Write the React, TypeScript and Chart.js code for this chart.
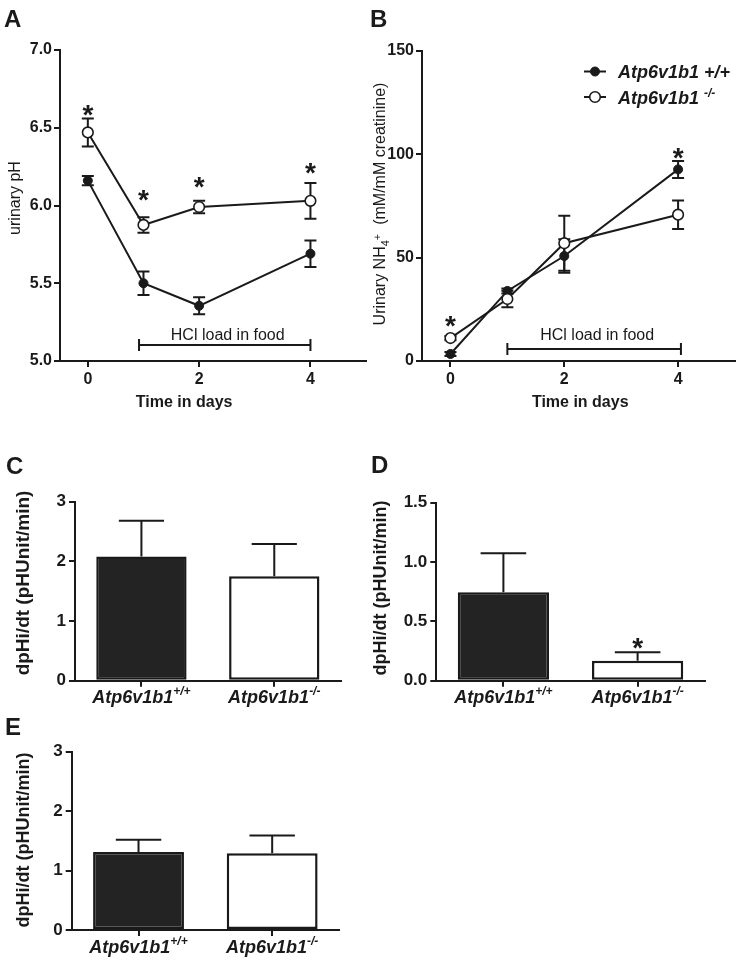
import React, { useEffect, useRef } from "react";
import { Chart, registerables } from "chart.js";

Chart.register(...registerables);

const FONT = "'Liberation Sans', Arial, Helvetica, sans-serif";
const INK = "#1a1a1a";
const DARK_FILL = "#232323";

// ---------- Panel A : urinary pH ----------
const days = [0, 1, 2, 4];
const dayTicks = [0, 2, 4];
const phWT = [6.16, 5.5, 5.355, 5.69];
const phWTErr = [0.03, 0.075, 0.055, 0.085];
const phKO = [6.47, 5.875, 5.99, 6.03];
const phKOErr = [0.09, 0.05, 0.04, 0.115];
const phStarDays = [0, 1, 2, 4];
const phStarLevels = [6.63, 6.08, 6.165, 6.255];
const phHclSpan = [0.92, 4];
const phHclLevel = 5.103;
const phHclTextLevel = 5.135;

// ---------- Panel B : urinary NH4+ ----------
const nh4WT = [3.4, 33.9, 50.8, 92.7];
const nh4WTErr = [1.0, 1.2, 8.1, 4.1];
const nh4KO = [11.1, 30.0, 57.0, 70.8];
const nh4KOErr = [1.0, 4.0, 13.3, 6.9];
const nh4StarDays = [0, 4];
const nh4StarLevels = [20.3, 101.7];
const nh4HclSpan = [1.0, 4.05];
const nh4HclLevel = 5.8;
const nh4HclTextLevel = 10.2;

// ---------- Panels C, D, E : dpHi/dt ----------
const genotypeNames = ["Atp6v1b1", "Atp6v1b1"];
const genotypeSups = ["+/+", "-/-"];
const rateC = [2.08, 1.75];
const rateCErr = [0.6, 0.54];
const rateD = [0.745, 0.168];
const rateDErr = [0.328, 0.072];
const rateDStars = [null, 0.337];
const rateE = [1.313, 1.29];
const rateEErr = [0.207, 0.3];

type Area = { l: number; t: number; r: number; b: number };
type Seg = { text: string; size: number; weight?: string; style?: string; dy?: number };

function fontOf(s: Seg) {
  return `${s.style || "normal"} ${s.weight || "normal"} ${s.size}px ${FONT}`;
}

function drawRich(
  ctx: CanvasRenderingContext2D,
  segs: Seg[],
  x: number,
  y: number,
  align: "left" | "center" = "left",
  rotate = false
) {
  ctx.save();
  ctx.translate(x, y);
  if (rotate) ctx.rotate(-Math.PI / 2);
  ctx.textAlign = "left";
  ctx.textBaseline = "alphabetic";
  ctx.fillStyle = INK;
  let w = 0;
  for (const s of segs) {
    ctx.font = fontOf(s);
    w += ctx.measureText(s.text).width;
  }
  let cx = align === "center" ? -w / 2 : 0;
  for (const s of segs) {
    ctx.font = fontOf(s);
    ctx.fillText(s.text, cx, s.dy || 0);
    cx += ctx.measureText(s.text).width;
  }
  ctx.restore();
}

function drawStar(ctx: CanvasRenderingContext2D, x: number, yCenter: number, size = 28) {
  ctx.save();
  ctx.font = `bold ${size}px ${FONT}`;
  ctx.fillStyle = INK;
  ctx.textAlign = "center";
  ctx.textBaseline = "alphabetic";
  ctx.fillText("*", x, yCenter + 0.58 * size);
  ctx.restore();
}

function drawErrorBar(
  ctx: CanvasRenderingContext2D,
  x: number,
  yFrom: number,
  yTo: number,
  half: number,
  capFrom: boolean
) {
  ctx.save();
  ctx.strokeStyle = INK;
  ctx.lineWidth = 2;
  ctx.lineCap = "butt";
  ctx.beginPath();
  ctx.moveTo(x, yFrom);
  ctx.lineTo(x, yTo);
  ctx.moveTo(x - half, yTo);
  ctx.lineTo(x + half, yTo);
  if (capFrom) {
    ctx.moveTo(x - half, yFrom);
    ctx.lineTo(x + half, yFrom);
  }
  ctx.stroke();
  ctx.restore();
}

function axisBase(size: number, pad: number) {
  return {
    border: { display: true, color: INK, width: 2 },
    grid: {
      display: true,
      drawOnChartArea: false,
      drawTicks: true,
      tickLength: 6,
      tickWidth: 2,
      tickColor: INK,
      color: INK,
      lineWidth: 2,
    },
    ticks: { color: INK, font: { family: FONT, size, weight: "bold" as const }, padding: pad },
  };
}

interface LineSpec {
  area: Area;
  yMin: number;
  yMax: number;
  yStep: number;
  yDecimals: number;
  wt: number[];
  wtErr: number[];
  ko: number[];
  koErr: number[];
  starDays: number[];
  starLevels: number[];
  hclSpan: number[];
  hclLevel: number;
  hclTextLevel: number;
  xTitleAt: number;
  yTitle: Seg[];
  yTitleX: number;
  yTitleY: number;
  legend: boolean;
}

function buildLine(spec: LineSpec) {
  return (W: number, H: number) => {
    const a = spec.area;
    const x = axisBase(16, 3);
    const y = axisBase(16, 2);
    const decor = {
      id: "lineDecor",
      beforeDatasetDraw(chart: any, args: any) {
        const ctx = chart.ctx as CanvasRenderingContext2D;
        const ys = chart.scales.y;
        const vals = args.index === 0 ? spec.wt : spec.ko;
        const errs = args.index === 0 ? spec.wtErr : spec.koErr;
        args.meta.data.forEach((pt: any, i: number) => {
          const top = ys.getPixelForValue(vals[i] + errs[i]);
          const bot = ys.getPixelForValue(vals[i] - errs[i]);
          drawErrorBar(ctx, pt.x, bot, top, 6, true);
        });
      },
      afterDatasetsDraw(chart: any) {
        const ctx = chart.ctx as CanvasRenderingContext2D;
        const xs = chart.scales.x;
        const ys = chart.scales.y;
        spec.starDays.forEach((d, i) => {
          drawStar(ctx, xs.getPixelForValue(d), ys.getPixelForValue(spec.starLevels[i]));
        });
        // HCl bracket
        const x0 = xs.getPixelForValue(spec.hclSpan[0]);
        const x1 = xs.getPixelForValue(spec.hclSpan[1]);
        const yb = ys.getPixelForValue(spec.hclLevel);
        ctx.save();
        ctx.strokeStyle = INK;
        ctx.lineWidth = 2;
        ctx.beginPath();
        ctx.moveTo(x0, yb);
        ctx.lineTo(x1, yb);
        ctx.moveTo(x0, yb - 6);
        ctx.lineTo(x0, yb + 6);
        ctx.moveTo(x1, yb - 6);
        ctx.lineTo(x1, yb + 6);
        ctx.stroke();
        ctx.restore();
        drawRich(
          ctx,
          [{ text: "HCl load in food", size: 16 }],
          (x0 + x1) / 2 + 3,
          ys.getPixelForValue(spec.hclTextLevel),
          "center"
        );
        if (spec.legend) {
          const ds = chart.data.datasets;
          const rows = [
            { y: 71.5, d: ds[0], segs: [{ text: "Atp6v1b1 +/+", size: 18, weight: "bold", style: "italic" }] },
            {
              y: 97,
              d: ds[1],
              segs: [
                { text: "Atp6v1b1 ", size: 18, weight: "bold", style: "italic" },
                { text: "-/-", size: 12, weight: "bold", style: "italic", dy: -7 },
              ],
            },
          ];
          const mx = 222;
          rows.forEach((r) => {
            ctx.save();
            ctx.strokeStyle = INK;
            ctx.lineWidth = 2;
            ctx.beginPath();
            ctx.moveTo(mx - 11, r.y);
            ctx.lineTo(mx + 11, r.y);
            ctx.stroke();
            ctx.beginPath();
            ctx.arc(mx, r.y, r.d.pointRadius, 0, Math.PI * 2);
            ctx.fillStyle = r.d.pointBackgroundColor;
            ctx.fill();
            ctx.lineWidth = r.d.pointBorderWidth;
            ctx.strokeStyle = r.d.pointBorderColor;
            ctx.stroke();
            ctx.restore();
            drawRich(ctx, r.segs as Seg[], 245, r.y + 6.5, "left");
          });
        }
      },
      afterDraw(chart: any) {
        const ctx = chart.ctx as CanvasRenderingContext2D;
        const xs = chart.scales.x;
        drawRich(ctx, [{ text: "Time in days", size: 16, weight: "bold" }], xs.getPixelForValue(spec.xTitleAt), 407, "center");
        drawRich(ctx, spec.yTitle, spec.yTitleX, spec.yTitleY, "center", true);
      },
    };
    return {
      type: "line" as const,
      data: {
        datasets: [
          {
            data: days.map((d, i) => ({ x: d, y: spec.wt[i] })),
            borderColor: INK,
            borderWidth: 2,
            pointRadius: 4.5,
            pointBackgroundColor: INK,
            pointBorderColor: INK,
            pointBorderWidth: 1,
            tension: 0,
            order: 2,
          },
          {
            data: days.map((d, i) => ({ x: d, y: spec.ko[i] })),
            borderColor: INK,
            borderWidth: 2,
            pointRadius: 5.3,
            pointBackgroundColor: "#ffffff",
            pointBorderColor: INK,
            pointBorderWidth: 1.6,
            tension: 0,
            order: 1,
          },
        ],
      },
      options: {
        animation: false as const,
        responsive: false,
        events: [],
        layout: { padding: { left: 0, top: a.t, right: W - a.r, bottom: 0 } },
        plugins: { legend: { display: false }, tooltip: { enabled: false } },
        scales: {
          x: {
            type: "linear" as const,
            min: -0.5,
            max: 5,
            ...x,
            afterBuildTicks: (s: any) => {
              s.ticks = dayTicks.map((v) => ({ value: v }));
            },
            afterFit: (s: any) => {
              s.height = H - a.b;
            },
          },
          y: {
            type: "linear" as const,
            min: spec.yMin,
            max: spec.yMax,
            ...y,
            ticks: {
              ...y.ticks,
              stepSize: spec.yStep,
              callback: (v: any) => Number(v).toFixed(spec.yDecimals),
            },
            afterFit: (s: any) => {
              s.width = a.l;
            },
          },
        },
      },
      plugins: [decor],
    };
  };
}

interface BarSpec {
  area: Area;
  values: number[];
  errs: number[];
  stars: (number | null)[];
  yMax: number;
  yStep: number;
  yDecimals: number;
  yTitleSize: number;
  yTitleX: number;
  yTitleY: number;
  labelGap: number;
}

function buildBar(spec: BarSpec) {
  return (W: number, H: number) => {
    const a = spec.area;
    const x = axisBase(17, 3);
    const y = axisBase(17, 3);
    const decor = {
      id: "barDecor",
      afterDatasetsDraw(chart: any) {
        const ctx = chart.ctx as CanvasRenderingContext2D;
        const ys = chart.scales.y;
        const meta = chart.getDatasetMeta(0);
        meta.data.forEach((bar: any, i: number) => {
          const top = ys.getPixelForValue(spec.values[i] + spec.errs[i]);
          drawErrorBar(ctx, bar.x, bar.y, top, bar.width / 4, false);
          const s = spec.stars[i];
          if (s !== null && s !== undefined) drawStar(ctx, bar.x, ys.getPixelForValue(s));
        });
      },
      afterDraw(chart: any) {
        const ctx = chart.ctx as CanvasRenderingContext2D;
        const xs = chart.scales.x;
        genotypeNames.forEach((n, i) => {
          drawRich(
            ctx,
            [
              { text: n, size: 18, weight: "bold", style: "italic" },
              { text: genotypeSups[i], size: 12, weight: "bold", style: "italic", dy: -8 },
            ],
            xs.getPixelForTick(i),
            a.b + spec.labelGap,
            "center"
          );
        });
        drawRich(
          ctx,
          [{ text: "dpHi/dt (pHUnit/min)", size: spec.yTitleSize, weight: "bold" }],
          spec.yTitleX,
          spec.yTitleY,
          "center",
          true
        );
      },
    };
    return {
      type: "bar" as const,
      data: {
        labels: genotypeNames.map((n, i) => n + genotypeSups[i]),
        datasets: [
          {
            data: spec.values,
            backgroundColor: [DARK_FILL, "#ffffff"],
            borderColor: INK,
            borderWidth: 2.5,
            borderSkipped: false,
            barPercentage: 0.68,
            categoryPercentage: 1,
          },
        ],
      },
      options: {
        animation: false as const,
        responsive: false,
        events: [],
        layout: { padding: { left: 0, top: a.t, right: W - a.r, bottom: 0 } },
        plugins: { legend: { display: false }, tooltip: { enabled: false } },
        scales: {
          x: {
            type: "category" as const,
            offset: true,
            ...x,
            grid: { ...x.grid, offset: false },
            ticks: { ...x.ticks, display: false },
            afterFit: (s: any) => {
              s.height = H - a.b;
            },
          },
          y: {
            type: "linear" as const,
            min: 0,
            max: spec.yMax,
            ...y,
            ticks: {
              ...y.ticks,
              stepSize: spec.yStep,
              callback: (v: any) => Number(v).toFixed(spec.yDecimals),
            },
            afterFit: (s: any) => {
              s.width = a.l;
            },
          },
        },
      },
      plugins: [decor],
    };
  };
}

const buildA = buildLine({
  area: { l: 60, t: 50, r: 373, b: 361 },
  yMin: 5,
  yMax: 7,
  yStep: 0.5,
  yDecimals: 1,
  wt: phWT,
  wtErr: phWTErr,
  ko: phKO,
  koErr: phKOErr,
  starDays: phStarDays,
  starLevels: phStarLevels,
  hclSpan: phHclSpan,
  hclLevel: phHclLevel,
  hclTextLevel: phHclTextLevel,
  xTitleAt: 1.73,
  yTitle: [{ text: "urinary pH", size: 16 }],
  yTitleX: 20,
  yTitleY: 198,
  legend: false,
});

const buildB = buildLine({
  area: { l: 49, t: 51, r: 362, b: 361 },
  yMin: 0,
  yMax: 150,
  yStep: 50,
  yDecimals: 0,
  wt: nh4WT,
  wtErr: nh4WTErr,
  ko: nh4KO,
  koErr: nh4KOErr,
  starDays: nh4StarDays,
  starLevels: nh4StarLevels,
  hclSpan: nh4HclSpan,
  hclLevel: nh4HclLevel,
  hclTextLevel: nh4HclTextLevel,
  xTitleAt: 2.28,
  yTitle: [
    { text: "Urinary NH", size: 16 },
    { text: "4", size: 11, dy: 4 },
    { text: "+", size: 11, dy: -4 },
    { text: "  (mM/mM creatinine)", size: 16 },
  ],
  yTitleX: 11.5,
  yTitleY: 204,
  legend: true,
});

const buildC = buildBar({
  area: { l: 75, t: 71.7, r: 340.7, b: 250.7 },
  values: rateC,
  errs: rateCErr,
  stars: [null, null],
  yMax: 3,
  yStep: 1,
  yDecimals: 0,
  yTitleSize: 19,
  yTitleX: 29,
  yTitleY: 153,
  labelGap: 22,
});

const buildD = buildBar({
  area: { l: 63.3, t: 72.7, r: 331.7, b: 250.7 },
  values: rateD,
  errs: rateDErr,
  stars: rateDStars,
  yMax: 1.5,
  yStep: 0.5,
  yDecimals: 1,
  yTitleSize: 18,
  yTitleX: 13,
  yTitleY: 158,
  labelGap: 22,
});

const buildE = buildBar({
  area: { l: 71.7, t: 39.7, r: 339, b: 218 },
  values: rateE,
  errs: rateEErr,
  stars: [null, null],
  yMax: 3,
  yStep: 1,
  yDecimals: 0,
  yTitleSize: 18,
  yTitleX: 29,
  yTitleY: 128,
  labelGap: 23,
});

function ChartBox(props: { left: number; top: number; w: number; h: number; build: (W: number, H: number) => any }) {
  const ref = useRef<HTMLCanvasElement | null>(null);
  useEffect(() => {
    if (!ref.current) return;
    const chart = new Chart(ref.current, props.build(props.w, props.h));
    return () => chart.destroy();
  }, []);
  return (
    <canvas
      ref={ref}
      width={props.w}
      height={props.h}
      style={{ position: "absolute", left: props.left, top: props.top, width: props.w, height: props.h, display: "block" }}
    />
  );
}

function Letter(props: { ch: string; left: number; baseline: number }) {
  return (
    <div
      style={{
        position: "absolute",
        left: props.left,
        top: props.baseline - 20.3,
        fontFamily: FONT,
        fontWeight: "bold",
        fontSize: 24,
        lineHeight: "24px",
        color: INK,
      }}
    >
      {props.ch}
    </div>
  );
}

export default function App() {
  return (
    <div style={{ position: "absolute", left: 0, top: 0, width: 746, height: 960, background: "#ffffff", overflow: "hidden" }}>
      <ChartBox left={0} top={0} w={373} h={430} build={buildA} />
      <ChartBox left={373} top={0} w={373} h={430} build={buildB} />
      <ChartBox left={0} top={430} w={373} h={282} build={buildC} />
      <ChartBox left={373} top={430} w={373} h={282} build={buildD} />
      <ChartBox left={0} top={712} w={373} h={248} build={buildE} />
      <Letter ch="A" left={4} baseline={27} />
      <Letter ch="B" left={370} baseline={27} />
      <Letter ch="C" left={6} baseline={474} />
      <Letter ch="D" left={371} baseline={473} />
      <Letter ch="E" left={5} baseline={735} />
    </div>
  );
}
